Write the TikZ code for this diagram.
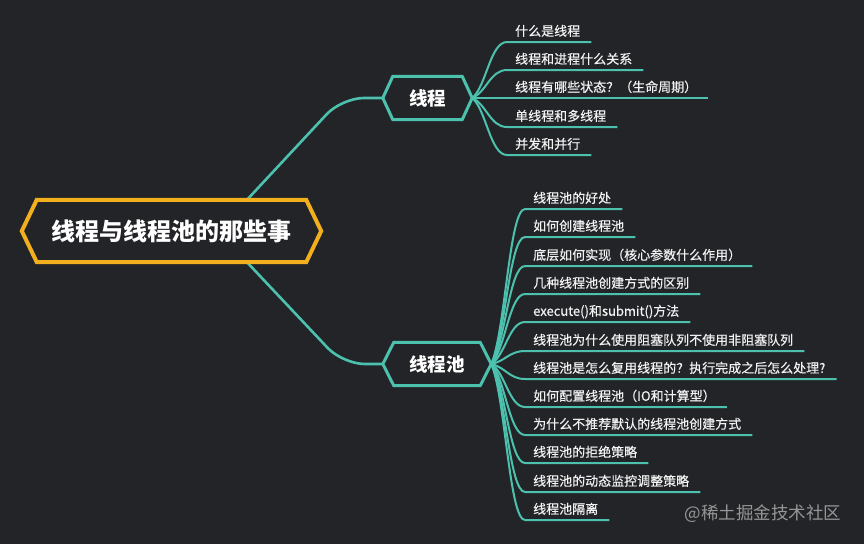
\documentclass[tikz,border=0pt]{standalone}
\usepackage{fontspec}
\setmainfont{Noto Sans CJK SC}
\newfontfamily\leaffont[FakeBold=0.35]{Noto Sans CJK SC}
\usetikzlibrary{calc}
\definecolor{bg}{HTML}{232428}
\definecolor{tealc}{HTML}{4CC2AE}
\definecolor{gold}{HTML}{F2B01E}
\definecolor{wmc}{RGB}{150,150,150}
\definecolor{leaftext}{HTML}{F2F2F2}
\tikzset{
  link/.style={draw=tealc, line width=2pt},
  mainlink/.style={draw=tealc, line width=2.6pt, rounded corners=22pt},
  rootbox/.style={inner sep=0pt, minimum width=269pt, minimum height=62pt,
    font=\fontsize{24}{28}\selectfont\bfseries, text=white},
  topicbox/.style={inner sep=0pt, minimum height=43pt,
    font=\fontsize{18.5}{22}\selectfont\bfseries, text=white},
  leaf/.style={anchor=south west, inner xsep=0pt, inner ysep=4pt,
    text height=10pt, text depth=2pt, font=\leaffont\fontsize{13}{15}\selectfont, text=leaftext},
  rootframe/.style={draw=gold, line width=4pt, line join=miter},
  topicframe/.style={draw=tealc, line width=3pt},
  wmark/.style={font=\fontsize{17.5}{20}\selectfont, text=wmc, anchor=east},
}
\newcommand\fanlink[2]{\draw[link] (#1) .. controls ($(#1)!0.2!(#1 |- #2.south)+(14pt,0)$) and ($(#1 |- #2.south)+(18pt,0)$) .. (#2.south west) -- (#2.south east);}
\newcommand\lt[1]{\hspace*{8pt}#1\hspace*{11pt}}
\begin{document}
\begin{tikzpicture}[x=1pt,y=-1pt]
\useasboundingbox (0,0) rectangle (864,544);
\fill[bg] (0,0) rectangle (864,544);

% main nodes
\node[rootbox] (root) at (171.5,231) {线程与线程池的那些事};
\node[topicbox, minimum width=69pt] (t1) at (427.5,98) {线程};
\node[topicbox, minimum width=86pt] (t2) at (437,364) {线程池};
\coordinate (t1w) at ($(t1.west)+(-10pt,0)$);
\coordinate (t1e) at ($(t1.east)+(10pt,0)$);
\coordinate (t2w) at ($(t2.west)+(-11pt,0)$);
\coordinate (t2e) at ($(t2.east)+(11pt,0)$);

% leaves of 线程
\node[leaf] (a1) at (507,42) {\lt{什么是线程}};
\node[leaf] (a2) at (507,70) {\lt{线程和进程什么关系}};
\node[leaf] (a3) at (507,98) {\lt{线程有哪些状态？（生命周期）}};
\node[leaf] (a4) at (507,127) {\lt{单线程和多线程}};
\node[leaf] (a5) at (507,155) {\lt{并发和并行}};

% leaves of 线程池
\node[leaf] (b1) at (525,209) {\lt{线程池的好处}};
\node[leaf] (b2) at (525,237) {\lt{如何创建线程池}};
\node[leaf] (b3) at (525,266) {\lt{底层如何实现（核心参数什么作用）}};
\node[leaf] (b4) at (525,294) {\lt{几种线程池创建方式的区别}};
\node[leaf] (b5) at (525,322) {\lt{execute()和submit()方法}};
\node[leaf] (b6) at (525,351) {\lt{线程池为什么使用阻塞队列不使用非阻塞队列}};
\node[leaf] (b7) at (525,379) {\lt{线程池是怎么复用线程的？执行完成之后怎么处理?}};
\node[leaf] (b8) at (525,407) {\lt{如何配置线程池（IO和计算型）}};
\node[leaf] (b9) at (525,435) {\lt{为什么不推荐默认的线程池创建方式}};
\node[leaf] (b10) at (525,463) {\lt{线程池的拒绝策略}};
\node[leaf] (b11) at (525,492) {\lt{线程池的动态监控调整策略}};
\node[leaf] (b12) at (525,520) {\lt{线程池隔离}};

% connectors root -> topics
\draw[mainlink] ($(root.north)+(75.5pt,0)$) -- ($(t1w)+(-41pt,0)$) -- (t1w);
\draw[mainlink] ($(root.south)+(75.5pt,0)$) -- ($(t2w)+(-40pt,0)$) -- (t2w);

% fans
\foreach \l in {a1,a2,a3,a4,a5} {\fanlink{t1e}{\l}}
\foreach \l in {b1,b2,b3,b4,b5,b6,b7,b8,b9,b10,b11,b12} {\fanlink{t2e}{\l}}

% frames
\draw[rootframe] (root.north west) -- (root.north east) -- ($(root.east)+(15pt,0)$)
  -- (root.south east) -- (root.south west) -- ($(root.west)+(-15pt,0)$) -- cycle;
\draw[topicframe] (t1.north west) -- (t1.north east) -- (t1e)
  -- (t1.south east) -- (t1.south west) -- (t1w) -- cycle;
\draw[topicframe] (t2.north west) -- (t2.north east) -- (t2e)
  -- (t2.south east) -- (t2.south west) -- (t2w) -- cycle;

% watermark
\node[wmark] (wm) at (845,514) {@稀土掘金技术社区};
\end{tikzpicture}
\end{document}
